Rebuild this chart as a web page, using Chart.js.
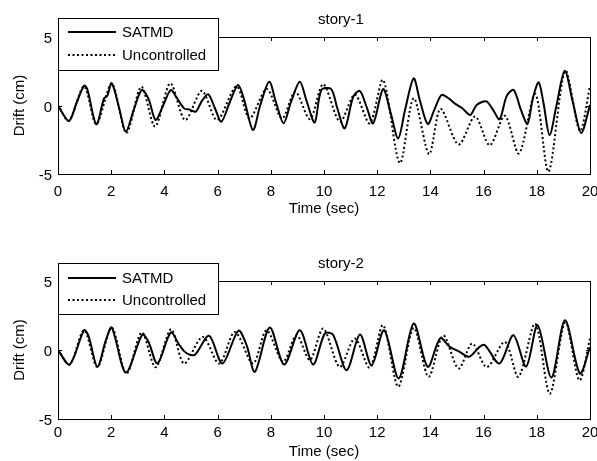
<!DOCTYPE html>
<html>
<head>
<meta charset="utf-8">
<title>Drift - story-1 / story-2</title>
<script src="https://cdn.jsdelivr.net/npm/chart.js@4.4.1/dist/chart.umd.min.js"></script>
<style>
  html, body { margin: 0; padding: 0; background: #fff; }
  #wrap { position: relative; width: 597px; height: 461px; }
  #wrap canvas { position: absolute; left: 0; }
  #story1 { top: 0; }
  #story2 { top: 244px; }
</style>
</head>
<body>
<div id="wrap">
  <canvas id="story1" width="597" height="230"></canvas>
  <canvas id="story2" width="597" height="217"></canvas>
</div>
<script>
// ============================================
// Drift time histories
// ============================================

const seriesNames = ['SATMD', 'Uncontrolled'];
const xTicks = [0, 2, 4, 6, 8, 10, 12, 14, 16, 18, 20];
const yTicks = [-5, 0, 5];

// --- story-1 ---
const s1SatTime = [0, 0.41, 0.7, 0.98, 1.1, 1.44, 1.73, 1.85, 2.02, 2.3, 2.55, 2.85, 3.15, 3.4, 3.67, 3.95,
  4.24, 4.45, 4.74, 4.95, 5.18, 5.4, 5.65, 5.9, 6.14, 6.45, 6.77, 7.0, 7.33, 7.6, 7.94, 8.2, 8.48, 8.75,
  9.09, 9.35, 9.65, 9.9, 10.27, 10.5, 10.78, 11.1, 11.35, 11.6, 11.85, 12.22, 12.5, 12.79, 13.05, 13.37,
  13.6, 13.9, 14.15, 14.42, 14.7, 14.95, 15.2, 15.5, 15.74, 16.1, 16.35, 16.6, 16.87, 17.13, 17.4, 17.65,
  17.85, 18.07, 18.25, 18.48, 18.75, 19.05, 19.35, 19.67, 20];
const s1SatDrift = [0, -1.13, 0.2, 1.45, 1.2, -1.37, 0.52, 0.7, 1.62, -0.2, -1.91, -0.3, 1.13, 0.5, -1.06, 0,
  1.13, 0.6, -0.21, -0.3, -0.45, 0.3, 0.82, -0.2, -1.18, 0.2, 1.5, 0.4, -1.79, 0, 1.74, 0.2, -1.3, 0.2,
  1.74, 0.3, -1.23, 1.13, 1.2, -0.2, -1.67, 0.64, 1.06, -0.1, -1.3, 1.2, -0.5, -2.4, -0.3, 1.98,
  0.4, -1.35, -0.3, 0.77, 0.5, 0.1, -0.2, -0.69, 0.04, 0.3, -0.3, -1.0, 0.7, 1.13, -0.3, -1.33,
  0.5, 1.7, 0.2, -2.15, 0.1, 2.53, 0.3, -2.0, 0.04];

const s1UncTime = [0, 0.41, 0.98, 1.44, 2.02, 2.57, 3.13, 3.65, 4.22, 4.78, 5.41, 5.98, 6.71, 7.2, 7.85,
  8.42, 8.92, 9.47, 9.97, 10.6, 11.16, 11.72, 12.22, 12.85, 13.37, 13.95, 14.38, 15.06, 15.68, 16.23,
  16.8, 17.33, 17.94, 18.44, 19.07, 19.62, 20];
const s1UncDrift = [0, -1.1, 1.4, -1.35, 1.6, -2.0, 1.37, -1.54, 1.62, -1.06, 1.07, -1.06, 1.4, -0.94, 1.2,
  -0.94, 1.0, -0.99, 1.55, -1.18, 0.8, -1.3, 1.86, -4.2, 0.53, -3.55, -0.25, -2.85, -0.8, -2.9,
  -0.75, -3.5, 0.85, -4.83, 2.53, -1.85, 1.4];

// --- story-2 ---
const s2SatTime = [0, 0.44, 0.98, 1.15, 1.48, 1.8, 2.02, 2.55, 3.17, 3.4, 3.74, 4.24, 4.55, 4.74, 4.93, 5.15,
  5.68, 6.18, 6.78, 7.09, 7.4, 7.96, 8.5, 9.09, 9.59, 10.03, 10.34, 10.85, 11.35, 11.79, 12.26, 12.81,
  13.37, 13.9, 14.37, 14.73, 15.1, 15.45, 15.85, 16.05, 16.6, 17.12, 17.6, 18.03, 18.55, 19.06, 19.62, 20];
const s2SatDrift = [0, -1.05, 1.43, 1.0, -1.22, 0.71, 1.63, -1.63, 1.12, 0.6, -0.98, 1.27, 0.4, -0.08, -0.32, -0.35,
  1.03, -0.98, 1.4, 0.35, -1.58, 1.63, -1.05, 1.43, -1.05, 1.19, 1.1, -1.46, 1.12, -1.1, 1.43, -2.06,
  1.92, -1.22, 0.85, 0.23, -0.13, -0.49, 0.23, 0.35, -0.98, 1.07, -1.2, 1.8, -2.0, 2.16, -1.7, 0.2];

const s2UncTime = [0, 0.44, 0.98, 1.48, 2.02, 2.57, 3.15, 3.67, 4.25, 4.74, 5.44, 6.06, 6.65, 7.33, 7.84,
  8.46, 8.97, 9.47, 9.97, 10.59, 11.16, 11.72, 12.22, 12.79, 13.37, 13.93, 14.48, 15.06, 15.57, 16.12,
  16.8, 17.31, 17.94, 18.49, 19.07, 19.6, 20];
const s2UncDrift = [0, -1.05, 1.43, -1.22, 1.63, -1.72, 1.27, -1.25, 1.5, -0.98, 0.95, -0.98, 1.3, -0.98, 1.43,
  -0.85, 1.07, -0.73, 1.56, -1.22, 0.83, -1.29, 1.8, -2.66, 1.6, -1.94, 1.05, -1.34, 0.47, -1.24,
  0.59, -1.94, 1.92, -3.17, 2.0, -2.2, 0.83];

const FONT = { family: '"Liberation Sans", Arial, sans-serif', size: 15 };
const FONT_CSS = '15px "Liberation Sans", Arial, sans-serif';

function toPoints(times, values) {
  return times.map((t, i) => ({ x: t, y: values[i] }));
}

// --- Axes box with inward ticks (MATLAB look) ---
const boxFrame = {
  id: 'boxFrame',
  afterDraw(chart) {
    const { ctx, chartArea: a, scales: { x, y } } = chart;
    ctx.save();
    ctx.strokeStyle = '#000';
    ctx.lineWidth = 1;
    ctx.strokeRect(Math.round(a.left) + 0.5, Math.round(a.top) + 0.5,
      Math.round(a.right - a.left), Math.round(a.bottom - a.top));
    const len = 4;
    ctx.beginPath();
    x.ticks.forEach(t => {
      const px = Math.round(x.getPixelForValue(t.value)) + 0.5;
      ctx.moveTo(px, a.bottom); ctx.lineTo(px, a.bottom - len);
      ctx.moveTo(px, a.top); ctx.lineTo(px, a.top + len);
    });
    y.ticks.forEach(t => {
      const py = Math.round(y.getPixelForValue(t.value)) + 0.5;
      ctx.moveTo(a.left, py); ctx.lineTo(a.left + len, py);
      ctx.moveTo(a.right, py); ctx.lineTo(a.right - len, py);
    });
    ctx.stroke();
    ctx.restore();
  }
};

// --- Title + boxed legend drawn over the axes ---
const boxLegend = {
  id: 'boxLegend',
  afterDraw(chart, args, opts) {
    const { ctx } = chart;
    ctx.save();
    // title
    ctx.fillStyle = '#000';
    ctx.font = FONT_CSS;
    ctx.textAlign = 'center';
    ctx.textBaseline = 'alphabetic';
    ctx.fillText(opts.title, opts.titleX, opts.titleY);

    // legend box
    const l = opts.left, top = opts.top, w = opts.width, h = opts.height;
    ctx.fillStyle = '#fff';
    ctx.fillRect(l, top, w, h);
    ctx.strokeStyle = '#000';
    ctx.lineWidth = 1;
    ctx.strokeRect(l + 0.5, top + 0.5, w, h);

    chart.data.datasets.forEach((ds, i) => {
      const rowY = top + opts.rows[i];
      ctx.beginPath();
      ctx.lineWidth = ds.borderWidth;
      ctx.setLineDash(ds.borderDash || []);
      ctx.moveTo(l + 10, rowY);
      ctx.lineTo(l + 58, rowY);
      ctx.stroke();
      ctx.setLineDash([]);
      ctx.fillStyle = '#000';
      ctx.textAlign = 'left';
      ctx.textBaseline = 'middle';
      ctx.fillText(ds.label, l + 64, rowY + 1);
    });
    ctx.restore();
  }
};

function makeChart(id, satPts, uncPts, cfg) {
  return new Chart(document.getElementById(id), {
    type: 'line',
    data: {
      datasets: [
        {
          label: seriesNames[0],
          data: satPts,
          borderColor: '#000',
          borderWidth: 2,
          pointRadius: 0,
          tension: 0.3
        },
        {
          label: seriesNames[1],
          data: uncPts,
          borderColor: '#000',
          borderWidth: 2,
          borderDash: [2, 2.5],
          pointRadius: 0,
          tension: 0.3
        }
      ]
    },
    options: {
      responsive: false,
      animation: false,
      events: [],
      layout: { padding: { left: 0, right: 7, top: 37, bottom: 0 } },
      plugins: {
        legend: { display: false },
        tooltip: { enabled: false },
        boxLegend: cfg.legend
      },
      scales: {
        x: {
          type: 'linear',
          min: 0,
          max: 20,
          afterBuildTicks: s => { s.ticks = xTicks.map(v => ({ value: v })); },
          ticks: { color: '#000', font: FONT, padding: cfg.xTickPad, maxRotation: 0, autoSkip: false },
          grid: { display: false, drawTicks: false },
          border: { display: false },
          title: { display: true, text: 'Time (sec)', color: '#000', font: FONT,
            padding: { top: 0, bottom: cfg.xTitlePad } },
          afterFit: s => { s.height = cfg.xHeight; s.paddingLeft = 0; s.paddingRight = 0; }
        },
        y: {
          type: 'linear',
          min: -5,
          max: 5,
          afterBuildTicks: s => { s.ticks = yTicks.map(v => ({ value: v })); },
          ticks: { color: '#000', font: FONT, padding: 6, labelOffset: 2 },
          grid: { display: false, drawTicks: false },
          border: { display: false },
          title: { display: true, text: 'Drift (cm)', color: '#000', font: FONT,
            padding: { top: 11, bottom: 0 } },
          afterFit: s => { s.width = 58; s.paddingTop = 0; s.paddingBottom = 0; }
        }
      }
    },
    plugins: [boxFrame, boxLegend]
  });
}

makeChart('story1', toPoints(s1SatTime, s1SatDrift), toPoints(s1UncTime, s1UncDrift), {
  xHeight: 56, xTickPad: 9, xTitlePad: 12,
  legend: { title: 'story-1', titleX: 341, titleY: 24, left: 58, top: 18, width: 160, height: 52, rows: [14, 37] }
});

makeChart('story2', toPoints(s2SatTime, s2SatDrift), toPoints(s2UncTime, s2UncDrift), {
  xHeight: 42, xTickPad: 5, xTitlePad: 0,
  legend: { title: 'story-2', titleX: 341, titleY: 24, left: 58, top: 19, width: 160, height: 51, rows: [15, 37] }
});
</script>
</body>
</html>
